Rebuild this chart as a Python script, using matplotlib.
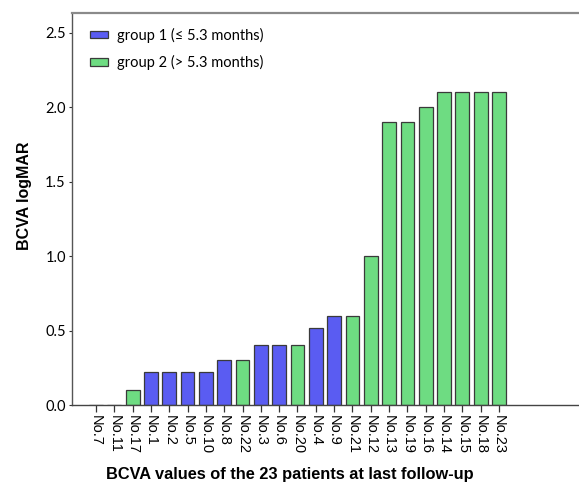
import numpy as np
import matplotlib
matplotlib.use("Agg")
from matplotlib import pyplot as plt
from matplotlib.patches import Patch

# BCVA (logMAR) at last follow-up, sorted ascending
patients = ["No.7", "No.11", "No.17", "No.1", "No.2", "No.5", "No.10", "No.8",
            "No.22", "No.3", "No.6", "No.20", "No.4", "No.9", "No.21", "No.12",
            "No.13", "No.19", "No.16", "No.14", "No.15", "No.18", "No.23"]
bcva = [0.0, 0.0, 0.1, 0.22, 0.22, 0.22, 0.22, 0.3,
        0.3, 0.4, 0.4, 0.4, 0.52, 0.6, 0.6, 1.0,
        1.9, 1.9, 2.0, 2.1, 2.1, 2.1, 2.1]
group = [1, 2, 2, 1, 1, 1, 1, 1,
         2, 1, 1, 2, 1, 1, 2, 2,
         2, 2, 2, 2, 2, 2, 2]
group_labels = ["group 1 (\u2264 5.3 months)", "group 2 (> 5.3 months)"]
yticks = [0.0, 0.5, 1.0, 1.5, 2.0, 2.5]

colors = {1: "#5A5CF2", 2: "#6EDC82"}
tick_font = "Lato"

fig = plt.figure(figsize=(5.79, 4.84), dpi=100)
ax = fig.add_axes([0.1244, 0.1632, 0.8756, 0.8099])

x = np.arange(len(patients))
ax.bar(x, bcva, width=0.75, color=[colors[g] for g in group],
       edgecolor="#3a3a3a", linewidth=0.9)

ax.set_xlim(-1.31, 26.37)
ax.set_ylim(0, 2.631)

ax.set_xticks(x)
ax.set_xticklabels(patients, rotation=-90, fontsize=10.5, family="Liberation Sans")
ax.set_yticks(yticks)
ax.set_yticklabels([f"{v:.1f}" for v in yticks], fontsize=10.5, family=tick_font)
ax.tick_params(axis="x", length=5, width=0.9, color="#333333", pad=2)
ax.tick_params(axis="y", length=2.5, width=0.8, color="#333333", pad=2)

ax.spines["right"].set_visible(False)
ax.spines["top"].set_color("#8a8a8a")
ax.spines["top"].set_linewidth(1.6)
ax.spines["left"].set_color("#555555")
ax.spines["bottom"].set_color("#444444")
ax.spines["left"].set_linewidth(1.0)
ax.spines["bottom"].set_linewidth(1.0)

ax.set_ylabel("BCVA logMAR", fontsize=11.5, fontweight="bold",
              family="Liberation Sans")
ax.yaxis.set_label_coords(-0.079, 0.535)
ax.set_xlabel("BCVA values of the 23 patients at last follow-up", fontsize=11.8,
              fontweight="bold", family="Liberation Sans")
ax.xaxis.set_label_coords(0.43, -0.158)

handles = [Patch(facecolor=colors[1], edgecolor="#3a3a3a", linewidth=0.9),
           Patch(facecolor=colors[2], edgecolor="#3a3a3a", linewidth=0.9)]
ax.legend(handles, group_labels, loc="upper left", bbox_to_anchor=(0.01, 0.996),
          frameon=False, prop={"family": tick_font, "size": 10.5},
          handlelength=1.25, handleheight=0.45, labelspacing=0.85, handletextpad=0.6)

plt.savefig("out.png", dpi=100)
